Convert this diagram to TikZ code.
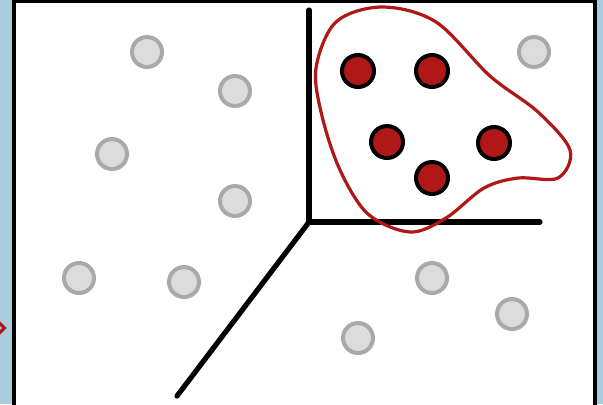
\documentclass[tikz,border=0pt]{standalone}
\usepackage{tikz}
\usetikzlibrary{positioning,shapes.geometric}

\definecolor{bgblue}{HTML}{A8CCDD}
\definecolor{ptgray}{HTML}{DCDCDC}
\definecolor{ptedge}{HTML}{A9A9A9}
\definecolor{clred}{HTML}{B01818}

\begin{document}
\begin{tikzpicture}[
        x=0.5pt, y=-0.5pt,
        dot/.style={circle, draw=ptedge, fill=ptgray, line width=2pt, minimum size=15pt, inner sep=0pt},
        hit/.style={circle, draw=black, fill=clred, line width=2pt, minimum size=16pt, inner sep=0pt},
        axis/.style={line width=2.6pt, line cap=round},
        blob/.style={draw=clred, line width=1.6pt}
    ]
        \useasboundingbox (0,0) rectangle (603,404);
        \fill[bgblue] (0,0) rectangle (603,404);
        \fill[white, draw=black, line width=2pt] (14,1) rectangle (595,410);
        \node[diamond, draw=clred, line width=1.6pt, minimum size=6pt, inner sep=0pt] (mark) at (-1,328) {};

        % axes
        \coordinate (o) at (309,222);
        \coordinate (yend) at (309,10);
        \coordinate (xend) at (540,222);
        \coordinate (zend) at (177,396);
        \draw[axis] (yend) -- (o) -- (xend);
        \draw[axis] (o) -- (zend);

        % background points
        \node[dot] (g1) at (147,52) {};
        \node[dot] (g2) at (235,91) {};
        \node[dot] (g3) at (112,154) {};
        \node[dot] (g4) at (235,201) {};
        \node[dot] (g5) at (79,278) {};
        \node[dot] (g6) at (184,282) {};
        \node[dot] (g7) at (534,52) {};
        \node[dot] (g8) at (432,278) {};
        \node[dot] (g9) at (512,314) {};
        \node[dot] (g10) at (358,338) {};

        % cluster
        \node[hit] (r1) at (358,71) {};
        \node[hit] (r2) at (432,71) {};
        \node[hit] (r3) at (387,142) {};
        \node[hit] (r4) at (494,143) {};
        \node[hit] (r5) at (432,178) {};

        \draw[blob] plot[smooth cycle, tension=0.55] coordinates {
            (316,68) (336,22) (382,7) (436,22) (490,76) (538,112)
            (570,150) (558,178) (518,178) (484,188) (446,218) (410,232) (368,214)
            (340,170) (322,116)};
    \end{tikzpicture}
\end{document}
